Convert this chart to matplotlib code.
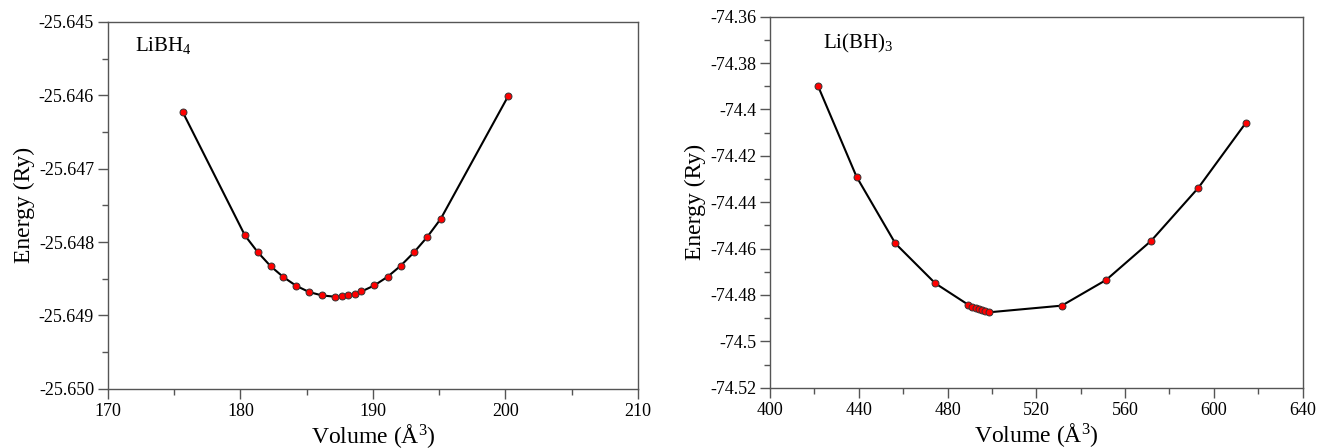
import matplotlib
matplotlib.use("Agg")
import matplotlib.pyplot as plt
from matplotlib.ticker import MultipleLocator, FuncFormatter

plt.rcParams['font.family'] = ['Liberation Serif', 'DejaVu Serif']
plt.rcParams['mathtext.fontset'] = 'custom'
plt.rcParams['mathtext.rm'] = 'Liberation Serif'
plt.rcParams['mathtext.it'] = 'Liberation Serif:italic'

# LiBH4
vol_libh4 = [175.64, 180.34, 181.30, 182.27, 183.24, 184.20, 185.20, 186.17, 187.17,
             187.65, 188.13, 188.62, 189.13, 190.10, 191.10, 192.09, 193.09, 194.09,
             195.12, 200.21]
en_libh4 = [-25.646227, -25.647910, -25.648136, -25.648327, -25.648477, -25.648595,
            -25.648682, -25.648727, -25.648745, -25.648741, -25.648723, -25.648705,
            -25.648673, -25.648591, -25.648473, -25.648323, -25.648141, -25.647932,
            -25.647682, -25.646009]

# Li(BH)3
vol_libh3 = [421.7, 439.0, 456.5, 474.5, 489.3, 491.2, 492.7, 494.3, 495.6, 497.0,
             498.5, 531.5, 551.5, 571.8, 593.0, 614.3]
en_libh3 = [-74.3900, -74.4290, -74.4578, -74.4750, -74.4842, -74.4850, -74.4855,
            -74.4861, -74.4865, -74.4869, -74.4875, -74.4846, -74.4735, -74.4566,
            -74.4338, -74.4059]

fig = plt.figure(figsize=(13.23, 4.48), dpi=100)
ax1 = fig.add_axes([0.0816, 0.132, 0.4006, 0.819])
ax2 = fig.add_axes([0.582, 0.1346, 0.4026, 0.828])


def style(ax):
    for s in ax.spines.values():
        s.set_color('#555555')
        s.set_linewidth(1.0)
    ax.tick_params(which='major', direction='out', length=7, width=1,
                   color='#555555', labelsize=13, pad=3, top=False, right=False)
    ax.tick_params(which='minor', direction='out', length=4, width=1,
                   color='#555555', top=False, right=False)


ax1.plot(vol_libh4, en_libh4, color='black', lw=1.5, marker='o', ms=5,
         mfc='red', mec='#333333', mew=0.7)
ax1.set_xlim(170, 210)
ax1.set_ylim(-25.650, -25.645)
ax1.xaxis.set_major_locator(MultipleLocator(10))
ax1.xaxis.set_minor_locator(MultipleLocator(5))
ax1.yaxis.set_major_locator(MultipleLocator(0.001))
ax1.yaxis.set_minor_locator(MultipleLocator(0.0005))
ax1.yaxis.set_major_formatter(FuncFormatter(lambda v, p: '%.3f' % v))
ax1.set_xlabel('Volume (Å$^{\\mathrm{3}}$)', fontsize=17, labelpad=2)
ax1.set_ylabel('Energy (Ry)', fontsize=17, labelpad=3)
ax1.text(0.051, 0.965, 'LiBH$_{\\mathrm{4}}$', transform=ax1.transAxes,
         fontsize=15, va='top', ha='left')
style(ax1)

ax2.plot(vol_libh3, en_libh3, color='black', lw=1.5, marker='o', ms=5,
         mfc='red', mec='#333333', mew=0.7)
ax2.set_xlim(400, 640)
ax2.set_ylim(-74.52, -74.36)
ax2.xaxis.set_major_locator(MultipleLocator(40))
ax2.xaxis.set_minor_locator(MultipleLocator(20))
ax2.yaxis.set_major_locator(MultipleLocator(0.02))
ax2.yaxis.set_minor_locator(MultipleLocator(0.01))
ax2.yaxis.set_major_formatter(FuncFormatter(lambda v, p: '%g' % round(v, 4)))
ax2.set_xlabel('Volume (Å$^{\\mathrm{3}}$)', fontsize=17, labelpad=2)
ax2.set_ylabel('Energy (Ry)', fontsize=17, labelpad=3)
ax2.text(0.10, 0.959, 'Li(BH)$_{\\mathrm{3}}$', transform=ax2.transAxes,
         fontsize=15, va='top', ha='left')
style(ax2)

fig.savefig('out.png', dpi=100)
